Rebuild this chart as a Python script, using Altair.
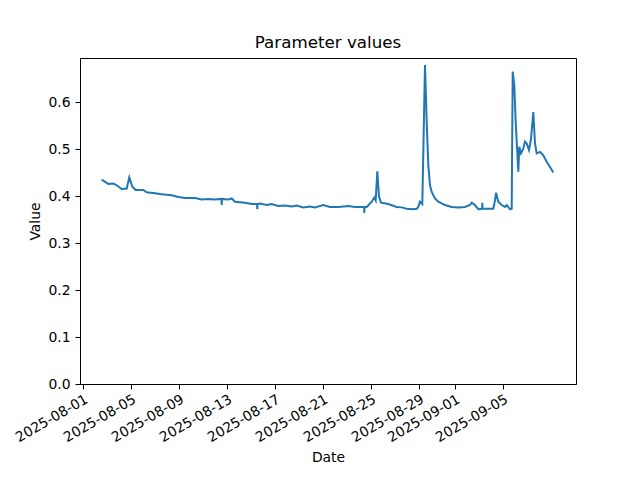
import altair as alt
import pandas as pd

times = [
    "2025-08-02T13:24", "2025-08-03T02:36", "2025-08-03T12:36", "2025-08-03T19:24",
    "2025-08-04T05:24", "2025-08-04T15:24", "2025-08-04T20:36", "2025-08-05T02:36",
    "2025-08-05T09:24", "2025-08-06T00:36", "2025-08-06T07:24", "2025-08-07T00:00",
    "2025-08-07T13:24", "2025-08-08T09:24", "2025-08-08T22:36", "2025-08-09T12:00",
    "2025-08-10T08:00", "2025-08-10T21:24", "2025-08-11T10:36", "2025-08-12T00:00",
    "2025-08-12T13:00", "2025-08-12T13:24", "2025-08-12T13:48", "2025-08-13T02:36",
    "2025-08-13T09:24", "2025-08-13T16:00", "2025-08-14T12:00", "2025-08-15T01:24",
    "2025-08-15T12:12", "2025-08-15T12:36", "2025-08-15T13:00", "2025-08-15T18:00",
    "2025-08-16T07:24", "2025-08-16T17:24", "2025-08-17T06:36", "2025-08-17T20:00",
    "2025-08-18T09:24", "2025-08-18T19:24", "2025-08-19T08:36", "2025-08-19T22:00",
    "2025-08-20T08:00", "2025-08-21T00:36", "2025-08-21T14:00", "2025-08-22T06:36",
    "2025-08-23T02:36", "2025-08-23T16:00", "2025-08-24T10:12", "2025-08-24T10:36",
    "2025-08-24T11:00", "2025-08-24T15:24", "2025-08-25T01:24", "2025-08-25T06:36",
    "2025-08-25T09:24", "2025-08-25T12:36", "2025-08-25T16:00", "2025-08-25T20:00",
    "2025-08-26T10:36", "2025-08-27T03:24", "2025-08-27T13:24", "2025-08-27T23:24",
    "2025-08-28T12:36", "2025-08-28T19:24", "2025-08-28T22:36", "2025-08-29T02:00",
    "2025-08-29T06:36", "2025-08-29T12:00", "2025-08-29T15:24", "2025-08-29T18:36",
    "2025-08-29T22:00", "2025-08-30T01:24", "2025-08-30T08:00", "2025-08-30T14:36",
    "2025-08-31T04:00", "2025-08-31T17:24", "2025-09-01T06:36", "2025-09-01T20:00",
    "2025-09-02T06:00", "2025-09-02T09:24", "2025-09-02T16:00", "2025-09-02T22:36",
    "2025-09-03T06:12", "2025-09-03T06:36", "2025-09-03T07:00", "2025-09-04T04:36",
    "2025-09-04T08:00", "2025-09-04T10:00", "2025-09-04T14:36", "2025-09-04T21:24",
    "2025-09-05T04:00", "2025-09-05T07:24", "2025-09-05T14:00", "2025-09-05T17:24",
    "2025-09-05T19:24", "2025-09-05T22:36", "2025-09-06T01:24", "2025-09-06T06:36",
    "2025-09-06T08:36", "2025-09-06T12:00", "2025-09-06T16:36", "2025-09-06T20:00",
    "2025-09-06T23:24", "2025-09-07T04:00", "2025-09-07T08:00", "2025-09-07T12:36",
    "2025-09-07T16:00", "2025-09-07T19:24", "2025-09-08T02:00", "2025-09-08T08:36",
    "2025-09-08T15:24", "2025-09-08T22:00", "2025-09-09T04:36",
]
values = [
    0.435, 0.426, 0.427, 0.423,
    0.415, 0.416, 0.440, 0.420,
    0.413, 0.413, 0.408, 0.406,
    0.404, 0.402, 0.398, 0.396,
    0.396, 0.393, 0.394, 0.393,
    0.394, 0.381, 0.394, 0.393,
    0.395, 0.388, 0.386, 0.383,
    0.383, 0.372, 0.383, 0.384,
    0.381, 0.383, 0.379, 0.380,
    0.378, 0.380, 0.376, 0.378,
    0.376, 0.381, 0.377, 0.377,
    0.379, 0.377, 0.377, 0.364,
    0.377, 0.377, 0.388, 0.397,
    0.391, 0.453, 0.399, 0.386,
    0.383, 0.377, 0.376, 0.373,
    0.372, 0.373, 0.377, 0.388,
    0.383, 0.679, 0.558, 0.466,
    0.423, 0.409, 0.395, 0.388,
    0.381, 0.377, 0.376, 0.377,
    0.381, 0.386, 0.381, 0.372,
    0.373, 0.386, 0.373, 0.373,
    0.391, 0.407, 0.388, 0.381,
    0.377, 0.381, 0.372, 0.373,
    0.665, 0.636, 0.558, 0.452,
    0.505, 0.491, 0.501, 0.516,
    0.512, 0.498, 0.522, 0.579,
    0.512, 0.491, 0.494, 0.487,
    0.473, 0.462, 0.450,
]

tick_dates = [(8, 1), (8, 5), (8, 9), (8, 13), (8, 17), (8, 21), (8, 25), (8, 29), (9, 1), (9, 5)]
y_ticks = [0.0, 0.1, 0.2, 0.3, 0.4, 0.5, 0.6]

df = pd.DataFrame({"Date": times, "Value": values})

FONT = "DejaVu Sans"

chart = (
    alt.Chart(df)
    .mark_line(color="#1f77b4", strokeWidth=2)
    .encode(
        x=alt.X(
            "Date:T",
            title="Date",
            scale=alt.Scale(
                domain=[
                    alt.DateTime(year=2025, month=7, date=31, hours=18),
                    alt.DateTime(year=2025, month=9, date=11, hours=2),
                ],
                nice=False,
            ),
            axis=alt.Axis(
                values=[alt.DateTime(year=2025, month=m, date=d) for m, d in tick_dates],
                format="%Y-%m-%d",
                labelAngle=330,
                labelAlign="right",
                labelBaseline="top",
                labelFont=FONT,
                labelFontSize=13.9,
                labelColor="black",
                labelPadding=3,
                tickSize=5,
                tickColor="black",
                domainColor="black",
                grid=False,
                titleFont=FONT,
                titleFontSize=13.9,
                titleFontWeight="normal",
                titleColor="black",
                titlePadding=6,
                labelOverlap=False,
                labelFlush=False,
            ),
        ),
        y=alt.Y(
            "Value:Q",
            title="Value",
            scale=alt.Scale(domain=[0, 0.694], nice=False, zero=False),
            axis=alt.Axis(
                values=y_ticks,
                format=".1f",
                labelFont=FONT,
                labelFontSize=13.9,
                labelColor="black",
                labelPadding=5,
                tickSize=5,
                tickColor="black",
                domainColor="black",
                grid=False,
                titleFont=FONT,
                titleFontSize=13.9,
                titleFontWeight="normal",
                titleColor="black",
                titlePadding=5,
            ),
        ),
    )
    .properties(
        width=496,
        height=326,
        title=alt.TitleParams(
            "Parameter values",
            font=FONT,
            fontSize=16.7,
            fontWeight="normal",
            color="black",
            offset=6,
        ),
        autosize=alt.AutoSizeParams(type="none"),
        padding={"left": 72, "top": 50, "right": 56, "bottom": 88},
    )
    .configure_view(stroke="black", strokeWidth=1)
)

chart.save("out.html", embed_options={"renderer": "svg", "actions": False})
